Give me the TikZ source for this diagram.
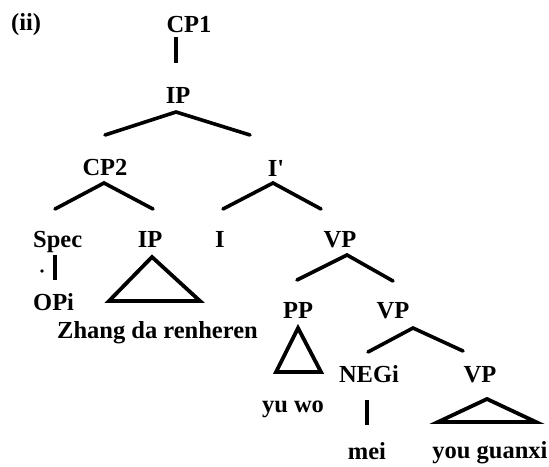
\documentclass[tikz,border=0pt]{standalone}
\usepackage{fontspec}
\setmainfont{Liberation Serif}
\begin{document}
\begin{tikzpicture}[x=1pt,y=-1pt,
  lbl/.style={inner sep=0pt,anchor=base,font=\fontsize{24.5}{28}\selectfont\bfseries},
  lbll/.style={lbl,anchor=base west},
  branch/.style={line width=3.6pt,line cap=round,line join=miter},
  stem/.style={line width=3.2pt},
  tri/.style={line width=3.8pt,line join=miter,line cap=round}]
\useasboundingbox (0,0) rectangle (549,466);
% labels
\node[lbll] (ii) at (11,30) {(ii)};
\node[lbl] (cp1) at (189,32) {CP1};
\node[lbl] (ip1) at (178,103) {IP};
\node[lbl] (cp2) at (105,175) {CP2};
\node[lbl] (ibar) at (276,176) {I\textquotesingle};
\node[lbll] (spec) at (33,247) {Spec};
\node[lbl] (ip2) at (150,247) {IP};
\node[lbl] (i) at (220,247) {I};
\node[lbl] (vp1) at (340,247) {VP};
\node[lbll] (opi) at (33,310) {OPi};
\node[lbll] (zhang) at (57,338) {Zhang da renheren};
\node[lbl] (pp) at (298,318) {PP};
\node[lbl] (vp2) at (393,318) {VP};
\node[lbl] (negi) at (369,382) {NEGi};
\node[lbl] (vp3) at (480,382) {VP};
\node[lbl] (yuwo) at (293,412) {yu wo};
\node[lbl] (mei) at (367,459) {mei};
\node[lbl] (yg) at (490,458) {you guanxi};
% coordinates for branch points
\coordinate (cp1s) at (176,37);
\coordinate (ip1n) at (176,63);
\coordinate (ip1a) at (176,112);
\coordinate (cp2n) at (105,135);
\coordinate (ibarn) at (250,135);
\coordinate (cp2a) at (104,183);
\coordinate (specn) at (55,209);
\coordinate (ip2n) at (153,209);
\coordinate (ibara) at (273,183);
\coordinate (in) at (223,209);
\coordinate (vp1n) at (321,209);
\coordinate (vp1a) at (347,255);
\coordinate (ppn) at (297,280);
\coordinate (vp2n) at (393,281);
\coordinate (vp2a) at (413,328);
\coordinate (negin) at (368,352);
\coordinate (vp3n) at (463,351);
\coordinate (specs) at (55,255);
\coordinate (opin) at (55,280);
\coordinate (negis) at (367,400);
\coordinate (meim) at (367,425);
% connectors
\draw[stem] (cp1s) -- (ip1n);
\draw[branch] (cp2n) -- (ip1a) -- (ibarn);
\draw[branch] (specn) -- (cp2a) -- (ip2n);
\draw[branch] (in) -- (ibara) -- (vp1n);
\draw[branch] (ppn) -- (vp1a) -- (vp2n);
\draw[branch] (negin) -- (vp2a) -- (vp3n);
\draw[stem] (specs) -- (opin);
\draw[stem] (negis) -- (meim);
\fill (42,271) circle (1.9);
% triangles
\draw[tri] (152,257) -- (109,301) -- (200,301) -- cycle;
\draw[tri] (298,328) -- (276,372) -- (321,372) -- cycle;
\draw[tri] (487,399) -- (438,422) -- (536,422) -- cycle;
\end{tikzpicture}
\end{document}
